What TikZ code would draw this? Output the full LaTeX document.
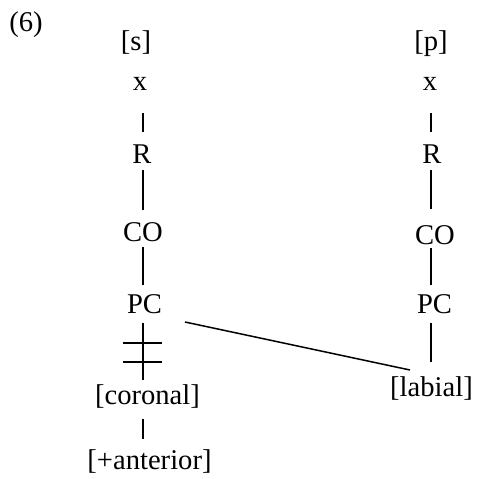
\documentclass[tikz,border=0pt]{standalone}
\usepackage{fontspec}
\setmainfont{Liberation Serif}
\usetikzlibrary{calc}
\begin{document}
\begin{tikzpicture}[x=0.5pt,y=-0.5pt,
  lbl/.style={anchor=base,inner sep=0pt,font=\fontsize{14.3}{17}\selectfont},
  link/.style={line width=0.75pt}]
\path[use as bounding box] (0,0) rectangle (477,479);
% example number
\node[lbl,anchor=base west] (num) at (9,31.5) {(6)};
% column positions of the vertical links
\coordinate (colL) at (143,0);
\coordinate (colR) at (431,0);
% left tree: [s]
\node[lbl] (sl)   at (136,50)    {[s]};
\node[lbl] (xl)   at (140,90)    {x};
\node[lbl] (Rl)   at (142,163)   {R};
\node[lbl] (COl)  at (143,241)   {CO};
\node[lbl] (PCl)  at (144.5,313) {PC};
\node[lbl] (cor)  at (147.5,404) {[coronal]};
\node[lbl] (ant)  at (149.5,469) {[+anterior]};
% right tree: [p]
\node[lbl] (sr)   at (431,50)    {[p]};
\node[lbl] (xr)   at (430,90)    {x};
\node[lbl] (Rr)   at (432,163)   {R};
\node[lbl] (COr)  at (435,244)   {CO};
\node[lbl] (PCr)  at (434.5,313) {PC};
\node[lbl] (lab)  at (431.5,396) {[labial]};
% left links
\draw[link] ($(xl.base -| colL)+(0,23)$) -- ($(Rl.base -| colL)+(0,-31)$);
\draw[link] ($(Rl.base -| colL)+(0,7)$) -- ($(COl.base -| colL)+(0,-31)$);
\draw[link] ($(COl.base -| colL)+(0,6)$) -- ($(PCl.base -| colL)+(0,-28)$);
\draw[link] ($(PCl.base -| colL)+(0,10)$) --
  coordinate[pos=0.35] (cut1) coordinate[pos=0.684] (cut2)
  ($(cor.base -| colL)+(0,-24)$);
\draw[link] ($(cor.base -| colL)+(0,15)$) -- ($(ant.base -| colL)+(0,-30)$);
% delinking bars
\draw[link] ($(cut1)+(-20,0)$) -- ($(cut1)+(19,0)$);
\draw[link] ($(cut2)+(-20,0)$) -- ($(cut2)+(19,0)$);
% right links
\draw[link] ($(xr.base -| colR)+(0,23)$) -- ($(Rr.base -| colR)+(0,-31)$);
\draw[link] ($(Rr.base -| colR)+(0,7)$) -- ($(COr.base -| colR)+(0,-35)$);
\draw[link] ($(COr.base -| colR)+(0,4)$) -- ($(PCr.base -| colR)+(0,-28)$);
\draw[link] ($(PCr.base -| colR)+(0,10)$) -- ($(lab.base -| colR)+(0,-34)$);
% spreading of [labial] to the left place node
\draw[link] ($(PCl.base)+(40.5,9)$) -- ($(lab.base)+(-21.5,-26)$);
\end{tikzpicture}
\end{document}
